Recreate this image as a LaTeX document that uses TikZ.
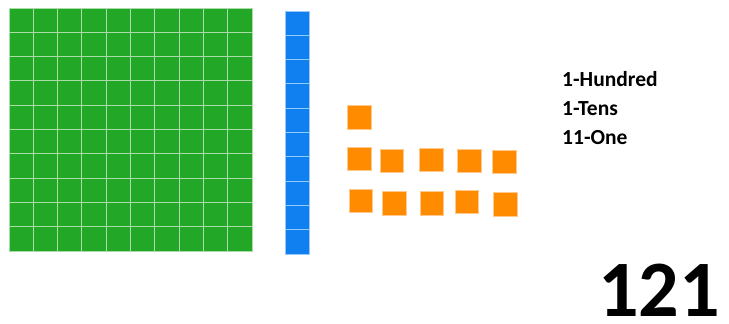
\documentclass[tikz,border=0pt]{standalone}
\usepackage{fontspec}
\setmainfont{Carlito}
\definecolor{gridgreen}{RGB}{34,168,38}
\definecolor{gridline}{RGB}{170,220,170}
\definecolor{tenblue}{RGB}{16,128,240}
\definecolor{tenline}{RGB}{150,200,250}
\definecolor{oneorange}{RGB}{255,140,0}
\definecolor{oneline}{RGB}{255,200,140}
\begin{document}
\begin{tikzpicture}[x=1pt,y=-1pt,
  hcell/.style={fill=gridgreen,draw=gridline,line width=0.9pt},
  tcell/.style={fill=tenblue,draw=tenline,line width=0.9pt},
  ocell/.style={fill=oneorange,draw=oneline,line width=0.6pt},
  lbl/.style={font=\bfseries\fontsize{21.5}{24}\selectfont,anchor=base west,inner sep=0pt}]
\useasboundingbox (0,0) rectangle (729,324);
% hundred block
\foreach \i in {0,...,9}{
  \foreach \j in {0,...,9}{
    \path[hcell] (9+\i*24.3,8+\j*24.3) rectangle ++(24.3,24.3);
  }
}
% ten bar
\foreach \j in {0,...,9}{
  \path[tcell] (285.5,11+\j*24.3) rectangle ++(24,24.3);
}
% ones
\foreach \x/\y in {347.7/105.7,
  347.3/147, 380/149, 419.3/148, 457.3/149, 492.3/150,
  349/189, 382.7/191.3, 420/191.7, 455/190, 493.7/192.7}{
  \path[ocell] (\x,\y) rectangle ++(23.5,23.5);
}
\node[lbl] (h) at (562,86.7) {1-Hundred};
\node[lbl] (t) at (562,115) {1-Tens};
\node[lbl] (o) at (562,144.3) {11-One};
\node[font=\bfseries\fontsize{80}{86}\selectfont,anchor=base west,inner sep=0pt] (n) at (598,316) {121};
\end{tikzpicture}
\end{document}
